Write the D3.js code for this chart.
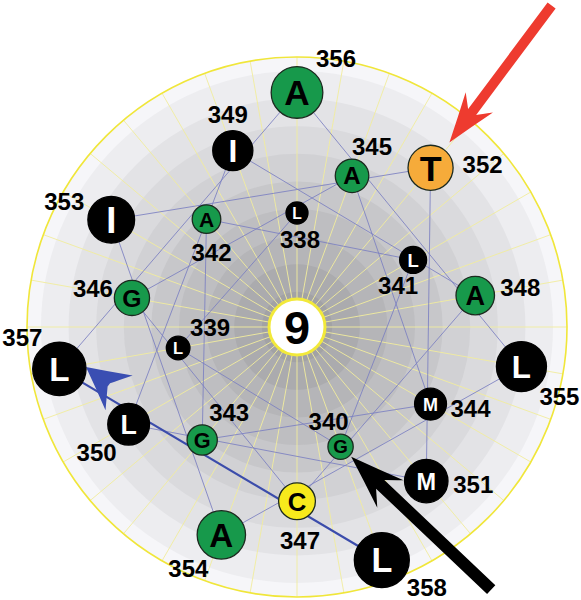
<!DOCTYPE html>
<html>
<head>
<meta charset="utf-8">
<script src="https://cdn.jsdelivr.net/npm/d3@7"></script>
<style>
  body { margin: 0; background: #fff; }
  svg { display: block; }
  text { font-family: "Liberation Sans", Arial, sans-serif; font-weight: bold; }
</style>
</head>
<body>
<svg id="wheel" width="581" height="600"></svg>
<script>
// helix 9, residues in sequence order
const residueNumbers = [338, 339, 340, 341, 342, 343, 344, 345, 346, 347, 348,
                        349, 350, 351, 352, 353, 354, 355, 356, 357, 358];
const residueLetters = ["L", "L", "G", "L", "A", "G", "M", "A", "G", "C", "A",
                        "I", "L", "M", "T", "I", "A", "L", "A", "L", "L"];
const helixLabel = "9";

// amino acid classes -> fill colour
const aminoLetters = ["L", "I", "M", "A", "G", "C", "T"];

// the pair of residues whose link is highlighted with the blue arrow
const highlightLink = [358, 357];

const svg = d3.select("#wheel");
const cx = 297, cy = 327, R = 270;

// wheel geometry: 100 degrees per residue, spiral outwards
const angleScale = d3.scaleLinear().domain([338, 339]).range([90, 190]);
const distScale = d3.scaleLinear().domain([338, 358]).range([114, 248]);
const sizeScale = d3.scaleLinear().domain([338, 358]).range([11, 27.5]);
const fillScale = d3.scaleOrdinal().domain(aminoLetters)
  .range(["#000", "#000", "#000", "#17994b", "#17994b", "#f7ea1c", "#f6ab3a"]);
const letterFactor = { L: 1.12, I: 1.38, M: 0.95, A: 1.22, G: 1.2, C: 1.2, T: 1.4 };

const rad = (d) => d * Math.PI / 180;
const pos = (n) => {
  const a = rad(angleScale(n)), r = distScale(n);
  return [cx + r * Math.cos(a), cy - r * Math.sin(a)];
};

// where each number sits relative to its circle
const labelOffset = {
  338: [3, 26], 339: [32, -21], 340: [-12, -25], 341: [-15, 25], 342: [5, 33],
  343: [27, -28], 344: [40, 4], 345: [20, -29], 346: [-39, -10], 347: [3, 39],
  348: [45, -8], 349: [-5, -36], 350: [-32, 28], 351: [47, 3], 352: [52, -3],
  353: [-47, -18], 354: [-33, 33], 355: [38, 30], 356: [39, -34], 357: [-37, -32],
  358: [45, 27]
};

const residues = residueNumbers.map((n, i) => ({ n, letter: residueLetters[i] }));

// shaded rings
const ringEdges = [R].concat(d3.range(9).map((j) => 256 - 27.6 * j));
const ringColor = d3.scaleLinear().domain([0, ringEdges.length - 1])
  .range(["#f6f6f9", "#a2a2a5"]).interpolate(d3.interpolateRgb);
svg.append("g").selectAll("circle").data(ringEdges).join("circle")
  .attr("cx", cx).attr("cy", cy).attr("r", (d) => d)
  .attr("fill", (d, i) => ringColor(i));

// yellow spokes every 10 degrees
svg.append("g").selectAll("line").data(d3.range(0, 360, 10)).join("line")
  .attr("x1", (d) => cx + 28 * Math.cos(rad(d)))
  .attr("y1", (d) => cy - 28 * Math.sin(rad(d)))
  .attr("x2", (d) => cx + R * Math.cos(rad(d)))
  .attr("y2", (d) => cy - R * Math.sin(rad(d)))
  .attr("stroke", "#f2ed9e").attr("stroke-width", 1).attr("opacity", 0.9);

svg.append("circle").attr("cx", cx).attr("cy", cy).attr("r", R)
  .attr("fill", "none").attr("stroke", "#f0e63a").attr("stroke-width", 1.6);

// links between consecutive residues
const links = d3.pairs(residueNumbers)
  .filter((p) => !(p.includes(highlightLink[0]) && p.includes(highlightLink[1])));
svg.append("g").selectAll("line").data(links).join("line")
  .attr("x1", (d) => pos(d[0])[0]).attr("y1", (d) => pos(d[0])[1])
  .attr("x2", (d) => pos(d[1])[0]).attr("y2", (d) => pos(d[1])[1])
  .attr("stroke", "#7c80c2").attr("stroke-width", 1).attr("opacity", 0.85);

// arrow shape, tip at origin, pointing back along +x
const arrowPath = (head, half, notch, shaft, length) => {
  const p = d3.path();
  p.moveTo(0, 0);
  p.quadraticCurveTo(head * 0.5, -half * 0.48, head, -half);
  p.quadraticCurveTo(notch + (head - notch) * 0.3, -shaft - (half - shaft) * 0.3, notch, -shaft);
  if (length > notch) { p.lineTo(length, -shaft); p.lineTo(length, shaft); }
  p.lineTo(notch, shaft);
  p.quadraticCurveTo(notch + (head - notch) * 0.3, shaft + (half - shaft) * 0.3, head, half);
  p.quadraticCurveTo(head * 0.5, half * 0.48, 0, 0);
  p.closePath();
  return p.toString();
};

// highlighted link with blue arrowhead
const [hA, hB] = highlightLink.map(pos);
svg.append("line")
  .attr("x1", hA[0]).attr("y1", hA[1]).attr("x2", hB[0]).attr("y2", hB[1])
  .attr("stroke", "#3b4cab").attr("stroke-width", 2.2);
{
  const c = pos(highlightLink[1]), r = sizeScale(highlightLink[1]);
  const tip = [c[0] + r * Math.cos(rad(-4)), c[1] + r * Math.sin(rad(-4))];
  svg.append("path")
    .attr("d", arrowPath(42, 22, 29, 2, 0))
    .attr("transform", `translate(${tip[0]},${tip[1]}) rotate(38)`)
    .attr("fill", "#3a4eb2");
}

// residue circles
const nodes = svg.append("g").selectAll("g").data(residues).join("g")
  .attr("transform", (d) => `translate(${pos(d.n)})`);
nodes.append("circle")
  .attr("r", (d) => sizeScale(d.n))
  .attr("fill", (d) => fillScale(d.letter))
  .attr("stroke", (d) => fillScale(d.letter) === "#000" ? "#000" : "#1c2a1f")
  .attr("stroke-width", 1.3);
nodes.append("text")
  .attr("text-anchor", "middle").attr("dy", "0.36em")
  .attr("font-size", (d) => (sizeScale(d.n) + 3) * letterFactor[d.letter])
  .attr("fill", (d) => fillScale(d.letter) === "#000" ? "#fff" : "#000")
  .text((d) => d.letter);

// residue numbers
svg.append("g").selectAll("text").data(residues).join("text")
  .attr("x", (d) => pos(d.n)[0] + labelOffset[d.n][0])
  .attr("y", (d) => pos(d.n)[1] + labelOffset[d.n][1])
  .attr("text-anchor", "middle").attr("dy", "0.36em")
  .attr("font-size", 24).attr("fill", "#000")
  .text((d) => d.n);

// helix number in the centre
svg.append("circle").attr("cx", cx).attr("cy", cy).attr("r", 28)
  .attr("fill", "#fff").attr("stroke", "#f2e93a").attr("stroke-width", 3);
svg.append("text").attr("x", cx).attr("y", cy).attr("dy", "0.36em")
  .attr("text-anchor", "middle").attr("font-size", 47).attr("fill", "#000")
  .text(helixLabel);

// pointer arrows at residues 352 and 340
const pointers = [
  { target: 352, axis: -53.3, gap: 9, head: 50, half: 17, notch: 38, shaft: 5, length: 171, color: "#ee3b2f" },
  { target: 340, axis: 43.5, gap: 2, head: 54, half: 19, notch: 40, shaft: 6, length: 193, color: "#000" }
];
svg.append("g").selectAll("path").data(pointers).join("path")
  .attr("d", (d) => arrowPath(d.head, d.half, d.notch, d.shaft, d.length))
  .attr("transform", (d) => {
    const c = pos(d.target), r = sizeScale(d.target) + d.gap;
    const tx = c[0] + r * Math.cos(rad(d.axis)), ty = c[1] + r * Math.sin(rad(d.axis));
    return `translate(${tx},${ty}) rotate(${d.axis})`;
  })
  .attr("fill", (d) => d.color);
</script>
</body>
</html>
